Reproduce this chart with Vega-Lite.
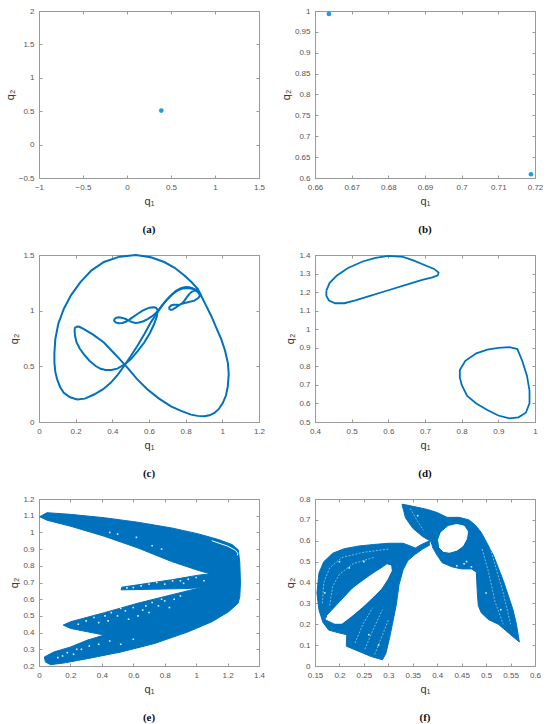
{
"$schema": "https://vega.github.io/schema/vega-lite/v6.json",
"background": "white",
"padding": {"left": 3, "top": 6, "right": 4, "bottom": 2},
"columns": 2,
"bounds": "flush",
"spacing": {"row": 77, "column": 56},
"datasets": {
"a": [{"x":0.39,"y":0.51}],
"b": [{"x":0.6638,"y":0.993},{"x":0.7189,"y":0.609}],
"c": [
{"s":1,"x":0.884,"y":1.136},{"s":1,"x":0.866,"y":1.196},{"s":1,"x":0.83,"y":1.26},{"s":1,"x":0.793,"y":1.316},{"s":1,"x":0.74,"y":1.385},{"s":1,"x":0.683,"y":1.437},{"s":1,"x":0.61,"y":1.48},{"s":1,"x":0.528,"y":1.5},{"s":1,"x":0.44,"y":1.485},{"s":1,"x":0.354,"y":1.437},{"s":1,"x":0.285,"y":1.36},{"s":1,"x":0.226,"y":1.256},{"s":1,"x":0.175,"y":1.14},{"s":1,"x":0.135,"y":1.015},{"s":1,"x":0.105,"y":0.88},{"s":1,"x":0.089,"y":0.744},{"s":1,"x":0.084,"y":0.62},{"s":1,"x":0.084,"y":0.533},{"s":1,"x":0.089,"y":0.45},{"s":1,"x":0.099,"y":0.383},{"s":1,"x":0.115,"y":0.315},{"s":1,"x":0.135,"y":0.262},{"s":1,"x":0.17,"y":0.222},{"s":1,"x":0.208,"y":0.202},{"s":1,"x":0.25,"y":0.21},{"s":1,"x":0.3,"y":0.247},{"s":1,"x":0.35,"y":0.295},{"s":1,"x":0.391,"y":0.352},{"s":1,"x":0.43,"y":0.425},{"s":1,"x":0.464,"y":0.503},{"s":1,"x":0.5,"y":0.59},{"s":1,"x":0.537,"y":0.684},{"s":1,"x":0.575,"y":0.79},{"s":1,"x":0.61,"y":0.895},{"s":1,"x":0.64,"y":0.97},{"s":1,"x":0.665,"y":1.03},{"s":1,"x":0.69,"y":1.085},{"s":1,"x":0.72,"y":1.136},{"s":1,"x":0.745,"y":1.175},{"s":1,"x":0.774,"y":1.202},{"s":1,"x":0.8,"y":1.212},{"s":1,"x":0.82,"y":1.211},{"s":1,"x":0.84,"y":1.2},{"s":1,"x":0.857,"y":1.187},{"s":1,"x":0.872,"y":1.163},{"s":1,"x":0.884,"y":1.136},
{"s":2,"x":0.884,"y":1.136},{"s":2,"x":0.91,"y":1.05},{"s":2,"x":0.939,"y":0.955},{"s":2,"x":0.965,"y":0.855},{"s":2,"x":0.994,"y":0.744},{"s":2,"x":1.015,"y":0.64},{"s":2,"x":1.03,"y":0.533},{"s":2,"x":1.035,"y":0.43},{"s":2,"x":1.03,"y":0.322},{"s":2,"x":1.02,"y":0.24},{"s":2,"x":1.003,"y":0.172},{"s":2,"x":0.98,"y":0.115},{"s":2,"x":0.957,"y":0.081},{"s":2,"x":0.93,"y":0.06},{"s":2,"x":0.902,"y":0.051},{"s":2,"x":0.865,"y":0.055},{"s":2,"x":0.829,"y":0.066},{"s":2,"x":0.775,"y":0.1},{"s":2,"x":0.72,"y":0.141},{"s":2,"x":0.655,"y":0.21},{"s":2,"x":0.592,"y":0.292},{"s":2,"x":0.535,"y":0.385},{"s":2,"x":0.482,"y":0.488},{"s":2,"x":0.42,"y":0.6},{"s":2,"x":0.354,"y":0.714},{"s":2,"x":0.295,"y":0.785},{"s":2,"x":0.245,"y":0.834},{"s":2,"x":0.22,"y":0.855},{"s":2,"x":0.208,"y":0.858},{"s":2,"x":0.196,"y":0.845},{"s":2,"x":0.194,"y":0.819},{"s":2,"x":0.197,"y":0.77},{"s":2,"x":0.205,"y":0.714},{"s":2,"x":0.222,"y":0.66},{"s":2,"x":0.245,"y":0.608},{"s":2,"x":0.275,"y":0.55},{"s":2,"x":0.309,"y":0.503},{"s":2,"x":0.336,"y":0.478},{"s":2,"x":0.364,"y":0.467},{"s":2,"x":0.395,"y":0.467},{"s":2,"x":0.427,"y":0.479},{"s":2,"x":0.465,"y":0.515},{"s":2,"x":0.5,"y":0.563},{"s":2,"x":0.537,"y":0.635},{"s":2,"x":0.574,"y":0.714},{"s":2,"x":0.605,"y":0.8},{"s":2,"x":0.628,"y":0.88},{"s":2,"x":0.642,"y":0.945},{"s":2,"x":0.647,"y":1.0},{"s":2,"x":0.64,"y":1.025},{"s":2,"x":0.628,"y":1.03},{"s":2,"x":0.61,"y":1.028},{"s":2,"x":0.592,"y":1.021},{"s":2,"x":0.565,"y":1.0},{"s":2,"x":0.537,"y":0.97},{"s":2,"x":0.51,"y":0.94},{"s":2,"x":0.491,"y":0.918},{"s":2,"x":0.473,"y":0.9},{"s":2,"x":0.455,"y":0.889},{"s":2,"x":0.435,"y":0.887},{"s":2,"x":0.418,"y":0.895},{"s":2,"x":0.41,"y":0.91},{"s":2,"x":0.412,"y":0.925},{"s":2,"x":0.422,"y":0.937},{"s":2,"x":0.436,"y":0.94},{"s":2,"x":0.455,"y":0.935},{"s":2,"x":0.473,"y":0.925},{"s":2,"x":0.49,"y":0.91},{"s":2,"x":0.51,"y":0.895},{"s":2,"x":0.528,"y":0.89},{"s":2,"x":0.546,"y":0.893},{"s":2,"x":0.57,"y":0.905},{"s":2,"x":0.592,"y":0.925},{"s":2,"x":0.615,"y":0.948},{"s":2,"x":0.632,"y":0.97},{"s":2,"x":0.65,"y":1.0},{"s":2,"x":0.67,"y":1.045},{"s":2,"x":0.695,"y":1.095},{"s":2,"x":0.725,"y":1.145},{"s":2,"x":0.755,"y":1.18},{"s":2,"x":0.785,"y":1.2},{"s":2,"x":0.815,"y":1.203},{"s":2,"x":0.84,"y":1.195},{"s":2,"x":0.858,"y":1.178},{"s":2,"x":0.872,"y":1.155},{"s":2,"x":0.878,"y":1.135},{"s":2,"x":0.87,"y":1.115},{"s":2,"x":0.848,"y":1.09},{"s":2,"x":0.811,"y":1.075},{"s":2,"x":0.774,"y":1.06},{"s":2,"x":0.747,"y":1.03},{"s":2,"x":0.73,"y":1.012},{"s":2,"x":0.72,"y":1.006},{"s":2,"x":0.711,"y":1.015},{"s":2,"x":0.711,"y":1.032},{"s":2,"x":0.72,"y":1.047},{"s":2,"x":0.735,"y":1.053},{"s":2,"x":0.752,"y":1.053},{"s":2,"x":0.766,"y":1.051},{"s":2,"x":0.782,"y":1.068},{"s":2,"x":0.793,"y":1.09},{"s":2,"x":0.806,"y":1.12},{"s":2,"x":0.82,"y":1.151},{"s":2,"x":0.835,"y":1.172},{"s":2,"x":0.848,"y":1.181},{"s":2,"x":0.862,"y":1.18},{"s":2,"x":0.872,"y":1.166},{"s":2,"x":0.88,"y":1.15},{"s":2,"x":0.884,"y":1.136}
],
"d": [
{"s":1,"x":0.431,"y":1.208},{"s":1,"x":0.44,"y":1.25},{"s":1,"x":0.46,"y":1.29},{"s":1,"x":0.49,"y":1.33},{"s":1,"x":0.53,"y":1.365},{"s":1,"x":0.565,"y":1.385},{"s":1,"x":0.6,"y":1.395},{"s":1,"x":0.64,"y":1.39},{"s":1,"x":0.67,"y":1.37},{"s":1,"x":0.7,"y":1.345},{"s":1,"x":0.725,"y":1.325},{"s":1,"x":0.737,"y":1.305},{"s":1,"x":0.735,"y":1.29},{"s":1,"x":0.72,"y":1.28},{"s":1,"x":0.69,"y":1.265},{"s":1,"x":0.65,"y":1.24},{"s":1,"x":0.6,"y":1.21},{"s":1,"x":0.55,"y":1.18},{"s":1,"x":0.51,"y":1.155},{"s":1,"x":0.48,"y":1.14},{"s":1,"x":0.455,"y":1.14},{"s":1,"x":0.438,"y":1.155},{"s":1,"x":0.431,"y":1.18},{"s":1,"x":0.431,"y":1.208},
{"s":2,"x":0.8,"y":0.7},{"s":2,"x":0.815,"y":0.64},{"s":2,"x":0.84,"y":0.6},{"s":2,"x":0.87,"y":0.565},{"s":2,"x":0.9,"y":0.535},{"s":2,"x":0.93,"y":0.52},{"s":2,"x":0.955,"y":0.525},{"s":2,"x":0.975,"y":0.55},{"s":2,"x":0.985,"y":0.6},{"s":2,"x":0.985,"y":0.67},{"s":2,"x":0.978,"y":0.75},{"s":2,"x":0.965,"y":0.83},{"s":2,"x":0.952,"y":0.893},{"s":2,"x":0.93,"y":0.903},{"s":2,"x":0.9,"y":0.9},{"s":2,"x":0.87,"y":0.89},{"s":2,"x":0.84,"y":0.87},{"s":2,"x":0.81,"y":0.83},{"s":2,"x":0.795,"y":0.78},{"s":2,"x":0.795,"y":0.74},{"s":2,"x":0.8,"y":0.7}
],
"e": [
{"k":"f","s":1,"x":0.004,"y":1.094},{"k":"f","s":1,"x":0.051,"y":1.118},{"k":"f","s":1,"x":0.201,"y":1.108},{"k":"f","s":1,"x":0.415,"y":1.088},{"k":"f","s":1,"x":0.629,"y":1.061},{"k":"f","s":1,"x":0.843,"y":1.027},{"k":"f","s":1,"x":1.015,"y":0.991},{"k":"f","s":1,"x":1.143,"y":0.957},{"k":"f","s":1,"x":1.229,"y":0.927},{"k":"f","s":1,"x":1.267,"y":0.897},{"k":"f","s":1,"x":1.272,"y":0.867},{"k":"f","s":1,"x":1.278,"y":0.816},{"k":"f","s":1,"x":1.282,"y":0.696},{"k":"f","s":1,"x":1.278,"y":0.616},{"k":"f","s":1,"x":1.267,"y":0.576},{"k":"f","s":1,"x":1.207,"y":0.525},{"k":"f","s":1,"x":1.1,"y":0.465},{"k":"f","s":1,"x":0.95,"y":0.405},{"k":"f","s":1,"x":0.736,"y":0.335},{"k":"f","s":1,"x":0.522,"y":0.284},{"k":"f","s":1,"x":0.308,"y":0.244},{"k":"f","s":1,"x":0.158,"y":0.218},{"k":"f","s":1,"x":0.073,"y":0.208},{"k":"f","s":1,"x":0.041,"y":0.224},{"k":"f","s":1,"x":0.034,"y":0.254},{"k":"f","s":1,"x":0.094,"y":0.284},{"k":"f","s":1,"x":0.201,"y":0.314},{"k":"f","s":1,"x":0.308,"y":0.355},{"k":"f","s":1,"x":0.415,"y":0.385},{"k":"f","s":1,"x":0.308,"y":0.405},{"k":"f","s":1,"x":0.201,"y":0.425},{"k":"f","s":1,"x":0.154,"y":0.445},{"k":"f","s":1,"x":0.201,"y":0.465},{"k":"f","s":1,"x":0.415,"y":0.519},{"k":"f","s":1,"x":0.629,"y":0.576},{"k":"f","s":1,"x":0.843,"y":0.626},{"k":"f","s":1,"x":1.015,"y":0.666},{"k":"f","s":1,"x":1.11,"y":0.676},{"k":"f","s":1,"x":0.95,"y":0.664},{"k":"f","s":1,"x":0.736,"y":0.66},{"k":"f","s":1,"x":0.522,"y":0.656},{"k":"f","s":1,"x":0.527,"y":0.672},{"k":"f","s":1,"x":0.629,"y":0.686},{"k":"f","s":1,"x":0.843,"y":0.716},{"k":"f","s":1,"x":1.015,"y":0.744},{"k":"f","s":1,"x":1.09,"y":0.752},{"k":"f","s":1,"x":1.015,"y":0.772},{"k":"f","s":1,"x":0.843,"y":0.826},{"k":"f","s":1,"x":0.629,"y":0.907},{"k":"f","s":1,"x":0.415,"y":0.977},{"k":"f","s":1,"x":0.201,"y":1.037},{"k":"f","s":1,"x":0.051,"y":1.073},{"k":"f","s":1,"x":0.004,"y":1.094},
{"k":"w","s":2,"x":1.1,"y":0.95},{"k":"w","s":2,"x":1.2,"y":0.918},{"k":"w","s":2,"x":1.25,"y":0.893},{"k":"w","s":2,"x":1.265,"y":0.875},{"k":"w","s":2,"x":1.262,"y":0.862},
{"k":"p","s":3,"x":0.3,"y":0.47},{"k":"p","s":3,"x":0.35,"y":0.49},{"k":"p","s":3,"x":0.42,"y":0.5},{"k":"p","s":3,"x":0.46,"y":0.52},{"k":"p","s":3,"x":0.5,"y":0.5},{"k":"p","s":3,"x":0.55,"y":0.53},{"k":"p","s":3,"x":0.6,"y":0.55},{"k":"p","s":3,"x":0.63,"y":0.5},{"k":"p","s":3,"x":0.68,"y":0.56},{"k":"p","s":3,"x":0.72,"y":0.58},{"k":"p","s":3,"x":0.76,"y":0.56},{"k":"p","s":3,"x":0.8,"y":0.59},{"k":"p","s":3,"x":0.83,"y":0.55},{"k":"p","s":3,"x":0.86,"y":0.6},{"k":"p","s":3,"x":0.9,"y":0.62},{"k":"p","s":3,"x":0.38,"y":0.46},{"k":"p","s":3,"x":0.57,"y":0.48},{"k":"p","s":3,"x":0.7,"y":0.52},{"k":"p","s":3,"x":0.25,"y":0.45},{"k":"p","s":3,"x":0.44,"y":0.47},{"k":"p","s":3,"x":0.52,"y":0.545},{"k":"p","s":3,"x":0.66,"y":0.535},{"k":"p","s":3,"x":0.78,"y":0.6},
{"k":"p","s":3,"x":0.6,"y":0.67},{"k":"p","s":3,"x":0.65,"y":0.68},{"k":"p","s":3,"x":0.7,"y":0.69},{"k":"p","s":3,"x":0.75,"y":0.7},{"k":"p","s":3,"x":0.8,"y":0.69},{"k":"p","s":3,"x":0.85,"y":0.71},{"k":"p","s":3,"x":0.9,"y":0.71},{"k":"p","s":3,"x":0.95,"y":0.72},{"k":"p","s":3,"x":1.0,"y":0.73},{"k":"p","s":3,"x":1.05,"y":0.71},{"k":"p","s":3,"x":0.56,"y":0.668},{"k":"p","s":3,"x":0.92,"y":0.695},
{"k":"p","s":3,"x":0.12,"y":0.25},{"k":"p","s":3,"x":0.18,"y":0.28},{"k":"p","s":3,"x":0.22,"y":0.27},{"k":"p","s":3,"x":0.27,"y":0.3},{"k":"p","s":3,"x":0.32,"y":0.32},{"k":"p","s":3,"x":0.38,"y":0.33},{"k":"p","s":3,"x":0.45,"y":0.35},{"k":"p","s":3,"x":0.52,"y":0.33},{"k":"p","s":3,"x":0.6,"y":0.36},{"k":"p","s":3,"x":0.15,"y":0.26},{"k":"p","s":3,"x":0.24,"y":0.3},
{"k":"p","s":3,"x":0.45,"y":1.0},{"k":"p","s":3,"x":0.5,"y":0.99},{"k":"p","s":3,"x":0.62,"y":0.97},{"k":"p","s":3,"x":0.72,"y":0.92},{"k":"p","s":3,"x":0.78,"y":0.9}
],
"f": [
{"k":"f","s":1,"x":0.385,"y":0.6},{"k":"f","s":1,"x":0.37,"y":0.585},{"k":"f","s":1,"x":0.355,"y":0.565},{"k":"f","s":1,"x":0.345,"y":0.575},{"k":"f","s":1,"x":0.33,"y":0.588},{"k":"f","s":1,"x":0.3,"y":0.588},{"k":"f","s":1,"x":0.27,"y":0.582},{"k":"f","s":1,"x":0.24,"y":0.575},{"k":"f","s":1,"x":0.21,"y":0.562},{"k":"f","s":1,"x":0.186,"y":0.54},{"k":"f","s":1,"x":0.168,"y":0.5},{"k":"f","s":1,"x":0.158,"y":0.445},{"k":"f","s":1,"x":0.154,"y":0.35},{"k":"f","s":1,"x":0.158,"y":0.27},{"k":"f","s":1,"x":0.166,"y":0.21},{"k":"f","s":1,"x":0.178,"y":0.172},{"k":"f","s":1,"x":0.2,"y":0.158},{"k":"f","s":1,"x":0.215,"y":0.15},{"k":"f","s":1,"x":0.214,"y":0.095},{"k":"f","s":1,"x":0.24,"y":0.07},{"k":"f","s":1,"x":0.265,"y":0.045},{"k":"f","s":1,"x":0.288,"y":0.03},{"k":"f","s":1,"x":0.295,"y":0.06},{"k":"f","s":1,"x":0.303,"y":0.14},{"k":"f","s":1,"x":0.31,"y":0.22},{"k":"f","s":1,"x":0.316,"y":0.29},{"k":"f","s":1,"x":0.322,"y":0.39},{"k":"f","s":1,"x":0.33,"y":0.46},{"k":"f","s":1,"x":0.34,"y":0.505},{"k":"f","s":1,"x":0.355,"y":0.535},{"k":"f","s":1,"x":0.37,"y":0.56},{"k":"f","s":1,"x":0.385,"y":0.58},
{"k":"f","s":2,"x":0.385,"y":0.6},{"k":"f","s":2,"x":0.37,"y":0.62},{"k":"f","s":2,"x":0.35,"y":0.66},{"k":"f","s":2,"x":0.335,"y":0.71},{"k":"f","s":2,"x":0.328,"y":0.775},{"k":"f","s":2,"x":0.34,"y":0.77},{"k":"f","s":2,"x":0.36,"y":0.76},{"k":"f","s":2,"x":0.38,"y":0.75},{"k":"f","s":2,"x":0.4,"y":0.735},{"k":"f","s":2,"x":0.42,"y":0.712},{"k":"f","s":2,"x":0.445,"y":0.712},{"k":"f","s":2,"x":0.465,"y":0.7},{"k":"f","s":2,"x":0.478,"y":0.675},{"k":"f","s":2,"x":0.49,"y":0.64},{"k":"f","s":2,"x":0.505,"y":0.575},{"k":"f","s":2,"x":0.515,"y":0.53},{"k":"f","s":2,"x":0.525,"y":0.47},{"k":"f","s":2,"x":0.535,"y":0.41},{"k":"f","s":2,"x":0.545,"y":0.34},{"k":"f","s":2,"x":0.555,"y":0.27},{"k":"f","s":2,"x":0.562,"y":0.2},{"k":"f","s":2,"x":0.568,"y":0.115},{"k":"f","s":2,"x":0.555,"y":0.14},{"k":"f","s":2,"x":0.54,"y":0.17},{"k":"f","s":2,"x":0.525,"y":0.2},{"k":"f","s":2,"x":0.505,"y":0.222},{"k":"f","s":2,"x":0.49,"y":0.255},{"k":"f","s":2,"x":0.484,"y":0.29},{"k":"f","s":2,"x":0.482,"y":0.35},{"k":"f","s":2,"x":0.48,"y":0.45},{"k":"f","s":2,"x":0.47,"y":0.465},{"k":"f","s":2,"x":0.45,"y":0.465},{"k":"f","s":2,"x":0.43,"y":0.475},{"k":"f","s":2,"x":0.41,"y":0.495},{"k":"f","s":2,"x":0.4,"y":0.53},{"k":"f","s":2,"x":0.39,"y":0.57},
{"k":"h","s":3,"x":0.172,"y":0.225},{"k":"h","s":3,"x":0.19,"y":0.205},{"k":"h","s":3,"x":0.205,"y":0.205},{"k":"h","s":3,"x":0.227,"y":0.244},{"k":"h","s":3,"x":0.25,"y":0.29},{"k":"h","s":3,"x":0.269,"y":0.332},{"k":"h","s":3,"x":0.285,"y":0.37},{"k":"h","s":3,"x":0.297,"y":0.413},{"k":"h","s":3,"x":0.306,"y":0.455},{"k":"h","s":3,"x":0.305,"y":0.48},{"k":"h","s":3,"x":0.297,"y":0.485},{"k":"h","s":3,"x":0.285,"y":0.465},{"k":"h","s":3,"x":0.27,"y":0.443},{"k":"h","s":3,"x":0.25,"y":0.41},{"k":"h","s":3,"x":0.227,"y":0.37},{"k":"h","s":3,"x":0.205,"y":0.315},{"k":"h","s":3,"x":0.187,"y":0.27},{"k":"h","s":3,"x":0.175,"y":0.24},
{"k":"h","s":4,"x":0.402,"y":0.6},{"k":"h","s":4,"x":0.408,"y":0.64},{"k":"h","s":4,"x":0.422,"y":0.668},{"k":"h","s":4,"x":0.44,"y":0.678},{"k":"h","s":4,"x":0.455,"y":0.67},{"k":"h","s":4,"x":0.462,"y":0.645},{"k":"h","s":4,"x":0.46,"y":0.61},{"k":"h","s":4,"x":0.452,"y":0.575},{"k":"h","s":4,"x":0.44,"y":0.555},{"k":"h","s":4,"x":0.425,"y":0.545},{"k":"h","s":4,"x":0.412,"y":0.55},{"k":"h","s":4,"x":0.404,"y":0.57},
{"k":"w","s":5,"x":0.165,"y":0.3},{"k":"w","s":5,"x":0.168,"y":0.4},{"k":"w","s":5,"x":0.18,"y":0.47},{"k":"w","s":5,"x":0.205,"y":0.52},{"k":"w","s":5,"x":0.25,"y":0.545},{"k":"w","s":5,"x":0.3,"y":0.56},
{"k":"w","s":6,"x":0.18,"y":0.29},{"k":"w","s":6,"x":0.186,"y":0.38},{"k":"w","s":6,"x":0.2,"y":0.44},{"k":"w","s":6,"x":0.228,"y":0.49},{"k":"w","s":6,"x":0.27,"y":0.52},
{"k":"w","s":7,"x":0.232,"y":0.11},{"k":"w","s":7,"x":0.248,"y":0.2},{"k":"w","s":7,"x":0.268,"y":0.28},
{"k":"w","s":8,"x":0.252,"y":0.08},{"k":"w","s":8,"x":0.268,"y":0.17},{"k":"w","s":8,"x":0.288,"y":0.27},
{"k":"w","s":9,"x":0.272,"y":0.055},{"k":"w","s":9,"x":0.285,"y":0.13},{"k":"w","s":9,"x":0.3,"y":0.22},
{"k":"w","s":10,"x":0.492,"y":0.56},{"k":"w","s":10,"x":0.505,"y":0.45},{"k":"w","s":10,"x":0.518,"y":0.31},{"k":"w","s":10,"x":0.535,"y":0.2},
{"k":"w","s":11,"x":0.507,"y":0.58},{"k":"w","s":11,"x":0.52,"y":0.47},{"k":"w","s":11,"x":0.535,"y":0.35},{"k":"w","s":11,"x":0.55,"y":0.2},
{"k":"w","s":12,"x":0.345,"y":0.755},{"k":"w","s":12,"x":0.358,"y":0.7},{"k":"w","s":12,"x":0.372,"y":0.65},
{"k":"p","s":13,"x":0.44,"y":0.48},{"k":"p","s":13,"x":0.455,"y":0.49},{"k":"p","s":13,"x":0.47,"y":0.475},{"k":"p","s":13,"x":0.46,"y":0.5},{"k":"p","s":13,"x":0.2,"y":0.5},{"k":"p","s":13,"x":0.22,"y":0.47},{"k":"p","s":13,"x":0.25,"y":0.5},{"k":"p","s":13,"x":0.17,"y":0.35},{"k":"p","s":13,"x":0.26,"y":0.15},{"k":"p","s":13,"x":0.28,"y":0.1},{"k":"p","s":13,"x":0.36,"y":0.72},{"k":"p","s":13,"x":0.5,"y":0.35},{"k":"p","s":13,"x":0.53,"y":0.27}
]
},
"concat": [
{
"width": 220, "height": 167,
"title": {"text": "(a)"},
"layer": [
{"data": {"name": "a"}, "mark": {"type": "point", "filled": true, "size": 22, "color": "#1a9fe6", "opacity": 1},
"encoding": {
"x": {"field": "x", "type": "quantitative", "scale": {"domain": [-1, 1.5], "nice": false, "zero": false}, "axis": {"values": [-1, -0.5, 0, 0.5, 1, 1.5], "format": "~g", "title": "q₁"}},
"y": {"field": "y", "type": "quantitative", "scale": {"domain": [-0.5, 2], "nice": false, "zero": false}, "axis": {"values": [-0.5, 0, 0.5, 1, 1.5, 2], "format": "~g", "title": "q₂"}}}},
{"data": {"name": "a"}, "mark": {"type": "point", "opacity": 0},
"encoding": {
"x": {"field": "x", "type": "quantitative", "axis": {"orient": "top", "values": [-1, -0.5, 0, 0.5, 1, 1.5], "labels": false, "title": null}},
"y": {"field": "y", "type": "quantitative", "axis": {"orient": "right", "values": [-0.5, 0, 0.5, 1, 1.5, 2], "labels": false, "title": null}}}}
],
"resolve": {"axis": {"x": "independent", "y": "independent"}}
},
{
"width": 220, "height": 167,
"title": {"text": "(b)"},
"layer": [
{"data": {"name": "b"}, "mark": {"type": "point", "filled": true, "size": 22, "color": "#1a9fe6", "opacity": 1},
"encoding": {
"x": {"field": "x", "type": "quantitative", "scale": {"domain": [0.66, 0.72], "nice": false, "zero": false}, "axis": {"values": [0.66, 0.67, 0.68, 0.69, 0.7, 0.71, 0.72], "format": "~g", "title": "q₁"}},
"y": {"field": "y", "type": "quantitative", "scale": {"domain": [0.6, 1], "nice": false, "zero": false}, "axis": {"values": [0.6, 0.65, 0.7, 0.75, 0.8, 0.85, 0.9, 0.95, 1], "format": "~g", "title": "q₂"}}}},
{"data": {"name": "b"}, "mark": {"type": "point", "opacity": 0},
"encoding": {
"x": {"field": "x", "type": "quantitative", "axis": {"orient": "top", "values": [0.66, 0.67, 0.68, 0.69, 0.7, 0.71, 0.72], "labels": false, "title": null}},
"y": {"field": "y", "type": "quantitative", "axis": {"orient": "right", "values": [0.6, 0.65, 0.7, 0.75, 0.8, 0.85, 0.9, 0.95, 1], "labels": false, "title": null}}}}
],
"resolve": {"axis": {"x": "independent", "y": "independent"}}
},
{
"width": 220, "height": 167,
"title": {"text": "(c)"},
"layer": [
{"data": {"name": "c"}, "mark": {"type": "line", "color": "#0072BD", "strokeWidth": 2},
"encoding": {
"x": {"field": "x", "type": "quantitative", "scale": {"domain": [0, 1.2], "nice": false, "zero": false}, "axis": {"values": [0, 0.2, 0.4, 0.6, 0.8, 1, 1.2], "format": "~g", "title": "q₁"}},
"y": {"field": "y", "type": "quantitative", "scale": {"domain": [0, 1.5], "nice": false, "zero": false}, "axis": {"values": [0, 0.5, 1, 1.5], "format": "~g", "title": "q₂"}},
"detail": {"field": "s", "type": "nominal"},
"order": {"value": null}}},
{"data": {"name": "c"}, "mark": {"type": "point", "opacity": 0},
"encoding": {
"x": {"field": "x", "type": "quantitative", "axis": {"orient": "top", "values": [0, 0.2, 0.4, 0.6, 0.8, 1, 1.2], "labels": false, "title": null}},
"y": {"field": "y", "type": "quantitative", "axis": {"orient": "right", "values": [0, 0.5, 1, 1.5], "labels": false, "title": null}}}}
],
"resolve": {"axis": {"x": "independent", "y": "independent"}}
},
{
"width": 220, "height": 167,
"title": {"text": "(d)"},
"layer": [
{"data": {"name": "d"}, "mark": {"type": "line", "color": "#0072BD", "strokeWidth": 1.8},
"encoding": {
"x": {"field": "x", "type": "quantitative", "scale": {"domain": [0.4, 1], "nice": false, "zero": false}, "axis": {"values": [0.4, 0.5, 0.6, 0.7, 0.8, 0.9, 1], "format": "~g", "title": "q₁"}},
"y": {"field": "y", "type": "quantitative", "scale": {"domain": [0.5, 1.4], "nice": false, "zero": false}, "axis": {"values": [0.5, 0.6, 0.7, 0.8, 0.9, 1, 1.1, 1.2, 1.3, 1.4], "format": "~g", "title": "q₂"}},
"detail": {"field": "s", "type": "nominal"},
"order": {"value": null}}},
{"data": {"name": "d"}, "mark": {"type": "point", "opacity": 0},
"encoding": {
"x": {"field": "x", "type": "quantitative", "axis": {"orient": "top", "values": [0.4, 0.5, 0.6, 0.7, 0.8, 0.9, 1], "labels": false, "title": null}},
"y": {"field": "y", "type": "quantitative", "axis": {"orient": "right", "values": [0.5, 0.6, 0.7, 0.8, 0.9, 1, 1.1, 1.2, 1.3, 1.4], "labels": false, "title": null}}}}
],
"resolve": {"axis": {"x": "independent", "y": "independent"}}
},
{
"width": 220, "height": 167,
"title": {"text": "(e)"},
"layer": [
{"data": {"name": "e"}, "transform": [{"filter": "datum.k === 'f'"}], "mark": {"type": "line", "fill": "#0072BD", "stroke": "#0072BD", "strokeWidth": 1},
"encoding": {
"x": {"field": "x", "type": "quantitative", "scale": {"domain": [0, 1.4], "nice": false, "zero": false}, "axis": {"values": [0, 0.2, 0.4, 0.6, 0.8, 1, 1.2, 1.4], "format": "~g", "title": "q₁"}},
"y": {"field": "y", "type": "quantitative", "scale": {"domain": [0.2, 1.2], "nice": false, "zero": false}, "axis": {"values": [0.2, 0.3, 0.4, 0.5, 0.6, 0.7, 0.8, 0.9, 1, 1.1, 1.2], "format": "~g", "title": "q₂"}},
"detail": {"field": "s", "type": "nominal"},
"order": {"value": null}}},
{"data": {"name": "e"}, "transform": [{"filter": "datum.k === 'w'"}], "mark": {"type": "line", "stroke": "white", "strokeWidth": 1},
"encoding": {
"x": {"field": "x", "type": "quantitative", "axis": null},
"y": {"field": "y", "type": "quantitative", "axis": null},
"detail": {"field": "s", "type": "nominal"},
"order": {"value": null}}},
{"data": {"name": "e"}, "transform": [{"filter": "datum.k === 'p'"}], "mark": {"type": "square", "filled": true, "color": "white", "opacity": 0.9, "size": 2.5},
"encoding": {
"x": {"field": "x", "type": "quantitative", "axis": null},
"y": {"field": "y", "type": "quantitative", "axis": null}}},
{"data": {"name": "e"}, "mark": {"type": "point", "opacity": 0},
"encoding": {
"x": {"field": "x", "type": "quantitative", "axis": {"orient": "top", "values": [0, 0.2, 0.4, 0.6, 0.8, 1, 1.2, 1.4], "labels": false, "title": null}},
"y": {"field": "y", "type": "quantitative", "axis": {"orient": "right", "values": [0.2, 0.3, 0.4, 0.5, 0.6, 0.7, 0.8, 0.9, 1, 1.1, 1.2], "labels": false, "title": null}}}}
],
"resolve": {"axis": {"x": "independent", "y": "independent"}}
},
{
"width": 220, "height": 167,
"title": {"text": "(f)"},
"layer": [
{"data": {"name": "f"}, "transform": [{"filter": "datum.k === 'f'"}], "mark": {"type": "line", "fill": "#0072BD", "stroke": "#0072BD", "strokeWidth": 1},
"encoding": {
"x": {"field": "x", "type": "quantitative", "scale": {"domain": [0.15, 0.6], "nice": false, "zero": false}, "axis": {"values": [0.15, 0.2, 0.25, 0.3, 0.35, 0.4, 0.45, 0.5, 0.55, 0.6], "format": "~g", "title": "q₁"}},
"y": {"field": "y", "type": "quantitative", "scale": {"domain": [0, 0.8], "nice": false, "zero": false}, "axis": {"values": [0, 0.1, 0.2, 0.3, 0.4, 0.5, 0.6, 0.7, 0.8], "format": "~g", "title": "q₂"}},
"detail": {"field": "s", "type": "nominal"},
"order": {"value": null}}},
{"data": {"name": "f"}, "transform": [{"filter": "datum.k === 'h'"}], "mark": {"type": "line", "fill": "white", "stroke": "white", "strokeWidth": 1},
"encoding": {
"x": {"field": "x", "type": "quantitative", "axis": null},
"y": {"field": "y", "type": "quantitative", "axis": null},
"detail": {"field": "s", "type": "nominal"},
"order": {"value": null}}},
{"data": {"name": "f"}, "transform": [{"filter": "datum.k === 'w'"}], "mark": {"type": "line", "stroke": "white", "strokeWidth": 0.8, "opacity": 0.6, "strokeDash": [2, 1.5]},
"encoding": {
"x": {"field": "x", "type": "quantitative", "axis": null},
"y": {"field": "y", "type": "quantitative", "axis": null},
"detail": {"field": "s", "type": "nominal"},
"order": {"value": null}}},
{"data": {"name": "f"}, "transform": [{"filter": "datum.k === 'p'"}], "mark": {"type": "square", "filled": true, "color": "white", "opacity": 0.9, "size": 2.5},
"encoding": {
"x": {"field": "x", "type": "quantitative", "axis": null},
"y": {"field": "y", "type": "quantitative", "axis": null}}},
{"data": {"name": "f"}, "mark": {"type": "point", "opacity": 0},
"encoding": {
"x": {"field": "x", "type": "quantitative", "axis": {"orient": "top", "values": [0.15, 0.2, 0.25, 0.3, 0.35, 0.4, 0.45, 0.5, 0.55, 0.6], "labels": false, "title": null}},
"y": {"field": "y", "type": "quantitative", "axis": {"orient": "right", "values": [0, 0.1, 0.2, 0.3, 0.4, 0.5, 0.6, 0.7, 0.8], "labels": false, "title": null}}}}
],
"resolve": {"axis": {"x": "independent", "y": "independent"}}
}
],
"config": {
"view": {"stroke": "#999999", "strokeWidth": 1},
"axis": {"domain": false, "grid": false, "labelFont": "Liberation Sans", "labelFontSize": 8, "labelColor": "#555555", "tickColor": "#999999", "tickSize": -3, "labelPadding": 8, "labelFlush": false, "labelOverlap": false, "titleFont": "Liberation Sans", "titleFontSize": 11, "titleFontWeight": "normal", "titleColor": "#333333"},
"axisX": {"titlePadding": 4},
"axisY": {"titlePadding": 3},
"title": {"font": "Liberation Serif", "fontWeight": "bold", "fontSize": 11, "color": "#111111", "orient": "bottom", "offset": 18, "anchor": "middle"}
}
}
